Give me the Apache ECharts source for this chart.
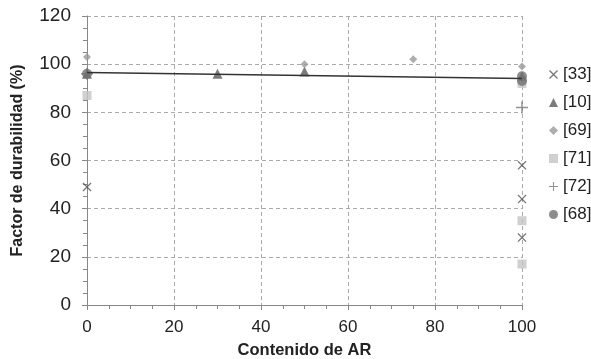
<!DOCTYPE html>
<html><head><meta charset="utf-8">
<script src="https://cdn.jsdelivr.net/npm/echarts@6/dist/echarts.min.js"></script>
<style>html,body{margin:0;padding:0;background:#fff}#c{width:591px;height:359px}</style>
</head><body><div id="c"></div>
<script>
const seriesNames = ['[33]','[10]','[69]','[71]','[72]','[68]'];
const s33 = [[0,49],[100,58],[100,44],[100,28]];
const s10 = [[0,96],[30,96],[50,97],[100,95]];
const s69 = [[0,103],[50,100],[75,102],[100,99]];
const s71 = [[0,87],[100,92],[100,35],[100,17]];
const s72 = [[0,96],[100,82]];
const s68 = [[0,96],[100,95],[100,93]];
const trend = [[0,96.5],[100,94]];
const xTicks = [0,20,40,60,80,100];
const yTicks = [0,20,40,60,80,100,120];

const crossSym = 'path://M1,0L5,4L9,0L10,1L6,5L10,9L9,10L5,6L1,10L0,9L4,5L0,1Z';
const plusSym = 'path://M4.4,0H5.6V4.4H10V5.6H5.6V10H4.4V5.6H0V4.4H4.4Z';
const colors = ['#555555','#5a5a5a','#9a9a9a','#c4c4c4','#777777','#707070'];
const symbols = [crossSym,'triangle','diamond','rect',plusSym,'circle'];
const sizes = [9,10,8,9,12,10];
const datas = [s33,s10,s69,s71,s72,s68];

const chart = echarts.init(document.getElementById('c'));
const series = seriesNames.map((n,i)=>({
  name:n, type:'scatter', data:datas[i], symbol:symbols[i], symbolSize:sizes[i],
  itemStyle:{color:colors[i]}
}));
series.push({name:'trend', type:'line', data:trend, symbol:'none', lineStyle:{color:'#333',width:1.5}, silent:true});
const font = 'Liberation Sans, Arial, sans-serif';
chart.setOption({
  animation:false,
  grid:{left:87,right:69,top:16,bottom:54,containLabel:false,outerBoundsMode:'none'},
  legend:{data:seriesNames.map((n,i)=>({name:n,icon:symbols[i]})), orient:'vertical', left:544, top:61,
    itemWidth:9, itemHeight:9, itemGap:11, textStyle:{fontFamily:font,fontSize:17,color:'#222'}},
  xAxis:{type:'value',min:0,max:100,interval:20,
    name:'Contenido de AR',nameLocation:'middle',nameGap:37,
    nameTextStyle:{fontFamily:font,fontSize:16.5,fontWeight:'bold',color:'#222'},
    axisLine:{lineStyle:{color:'#888'}},
    axisTick:{length:5,lineStyle:{color:'#888'}},
    minorTick:{show:true,splitNumber:4,length:4,lineStyle:{color:'#888'}},
    axisLabel:{fontFamily:font,fontSize:17,color:'#222',margin:14},
    splitLine:{show:true,lineStyle:{type:[4,3],color:'#aaa'}}},
  yAxis:{type:'value',min:0,max:120,interval:20,
    name:'Factor de durabilidad (%)',nameLocation:'middle',nameGap:61,
    nameTextStyle:{fontFamily:font,fontSize:16,fontWeight:'bold',color:'#222'},
    axisLine:{show:true,lineStyle:{color:'#888'}},
    axisTick:{show:true,length:5,lineStyle:{color:'#888'}},
    minorTick:{show:true,splitNumber:4,length:4,lineStyle:{color:'#888'}},
    axisLabel:{fontFamily:font,fontSize:19,color:'#222',margin:16},
    splitLine:{show:true,lineStyle:{type:[4,3],color:'#aaa'}}},
  series:series
});
</script></body></html>
